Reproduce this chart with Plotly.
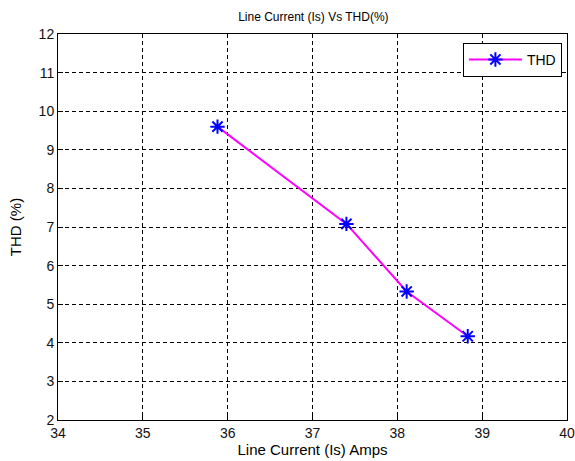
import plotly.graph_objects as go

line_current = [35.88, 37.40, 38.11, 38.83]
thd = [9.60, 7.08, 5.33, 4.17]
x_ticks = [34, 35, 36, 37, 38, 39, 40]
y_ticks = [2, 3, 4, 5, 6, 7, 8, 9, 10, 11, 12]

fig = go.Figure()
fig.add_trace(go.Scatter(
    x=line_current, y=thd, mode="lines+markers", name="THD",
    line=dict(color="#ff00ff", width=2),
    marker=dict(symbol="asterisk-open", size=12, color="blue",
                line=dict(color="blue", width=2)),
))

fam = "Liberation Sans, Arial, sans-serif"
font = dict(family=fam, size=12, color="black")
axis_common = dict(
    showline=True, linecolor="black", linewidth=1, mirror=True,
    showgrid=True, gridcolor="black", gridwidth=1, griddash="4px,3px",
    ticks="inside", ticklen=5, tickcolor="black", zeroline=False,
    tickfont=dict(family=fam, size=14, color="#111"), automargin=False,
)
fig.update_layout(
    width=575, height=461,
    margin=dict(l=58, r=8, t=34, b=41),
    paper_bgcolor="white", plot_bgcolor="white",
    font=font,
    title=dict(text="Line Current (Is) Vs THD(%)", x=0.545, xanchor="center",
               y=0.963, yanchor="middle", font=dict(size=12)),
    xaxis=dict(range=[34, 40], tickvals=x_ticks,
               title=dict(text="Line Current (Is) Amps", standoff=3,
                          font=dict(size=15)), **axis_common),
    yaxis=dict(range=[2, 12], tickvals=y_ticks,
               title=dict(text="THD (%)", standoff=13,
                          font=dict(size=15)), **axis_common),
    showlegend=True,
    legend=dict(x=0.99, y=0.977, xanchor="right", yanchor="top",
                bordercolor="black", borderwidth=1, bgcolor="white",
                itemwidth=53, font=dict(size=14)),
)
fig.write_html("out.html")
